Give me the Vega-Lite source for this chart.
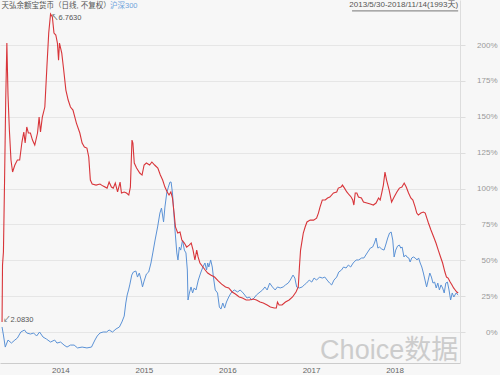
{
"$schema":"https://vega.github.io/schema/vega-lite/v6.json",
"width":460,"height":363,
"autosize":"none",
"padding":{"left":0,"top":0,"right":40,"bottom":12},
"background":"#f7f7f7",
"config":{"view":{"stroke":null},"font":"Liberation Sans, Noto Sans CJK SC"},
"datasets":{
"red":[
{"date":"2013-05-30","value":7.0},{"date":"2013-06-01","value":46.7},{"date":"2013-06-05","value":55.7},{"date":"2013-06-10","value":105.9},{"date":"2013-06-15","value":161.7},{"date":"2013-06-20","value":201.4},{"date":"2013-06-25","value":165.2},{"date":"2013-07-01","value":140.8},{"date":"2013-07-08","value":119.9},{"date":"2013-07-15","value":111.5},{"date":"2013-07-25","value":116.4},{"date":"2013-08-05","value":119.9},{"date":"2013-08-15","value":119.9},{"date":"2013-08-25","value":132.4},{"date":"2013-09-02","value":139.4},{"date":"2013-09-08","value":131.7},{"date":"2013-09-15","value":142.9},{"date":"2013-09-22","value":138.7},{"date":"2013-10-01","value":138.7},{"date":"2013-10-10","value":133.8},{"date":"2013-10-20","value":130.3},{"date":"2013-11-01","value":138.7},{"date":"2013-11-08","value":149.8},{"date":"2013-11-14","value":139.4},{"date":"2013-11-22","value":149.8},{"date":"2013-12-03","value":156.8},{"date":"2013-12-12","value":184.7},{"date":"2013-12-20","value":208.4},{"date":"2013-12-28","value":221.6},{"date":"2014-01-05","value":219.5},{"date":"2014-01-12","value":208.4},{"date":"2014-01-20","value":207.0},{"date":"2014-01-27","value":201.4},{"date":"2014-02-01","value":189.5},{"date":"2014-02-05","value":201.4},{"date":"2014-02-15","value":194.4},{"date":"2014-02-22","value":184.7},{"date":"2014-03-05","value":168.6},{"date":"2014-03-15","value":161.7},{"date":"2014-03-25","value":156.8},{"date":"2014-04-05","value":154.7},{"date":"2014-04-20","value":145.6},{"date":"2014-05-05","value":138.7},{"date":"2014-05-15","value":131.7},{"date":"2014-05-25","value":128.9},{"date":"2014-06-05","value":128.2},{"date":"2014-06-13","value":122.0},{"date":"2014-06-20","value":105.9},{"date":"2014-06-28","value":103.1},{"date":"2014-07-15","value":102.4},{"date":"2014-08-01","value":103.1},{"date":"2014-08-15","value":101.7},{"date":"2014-09-01","value":100.3},{"date":"2014-09-10","value":104.5},{"date":"2014-09-20","value":101.0},{"date":"2014-09-28","value":100.3},{"date":"2014-10-07","value":103.8},{"date":"2014-10-17","value":97.6},{"date":"2014-10-28","value":104.5},{"date":"2014-11-03","value":96.9},{"date":"2014-11-15","value":97.6},{"date":"2014-11-25","value":96.9},{"date":"2014-12-05","value":95.5},{"date":"2014-12-12","value":101.0},{"date":"2014-12-16","value":119.9},{"date":"2014-12-19","value":133.8},{"date":"2014-12-23","value":131.7},{"date":"2014-12-29","value":117.8},{"date":"2015-01-08","value":114.3},{"date":"2015-01-22","value":110.8},{"date":"2015-02-01","value":109.4},{"date":"2015-02-10","value":116.4},{"date":"2015-02-20","value":117.8},{"date":"2015-03-06","value":116.4},{"date":"2015-03-16","value":118.5},{"date":"2015-03-28","value":116.4},{"date":"2015-04-11","value":114.3},{"date":"2015-04-22","value":109.4},{"date":"2015-05-02","value":105.9},{"date":"2015-05-12","value":101.0},{"date":"2015-05-22","value":97.6},{"date":"2015-05-30","value":95.5},{"date":"2015-06-07","value":97.6},{"date":"2015-06-14","value":93.4},{"date":"2015-06-21","value":82.9},{"date":"2015-06-27","value":73.2},{"date":"2015-07-07","value":69.0},{"date":"2015-07-17","value":69.7},{"date":"2015-07-25","value":64.1},{"date":"2015-08-05","value":62.0},{"date":"2015-08-15","value":59.2},{"date":"2015-08-26","value":60.6},{"date":"2015-09-04","value":62.0},{"date":"2015-09-12","value":57.1},{"date":"2015-09-20","value":50.2},{"date":"2015-09-28","value":57.1},{"date":"2015-10-04","value":52.3},{"date":"2015-10-12","value":48.1},{"date":"2015-10-25","value":45.3},{"date":"2015-11-04","value":43.2},{"date":"2015-11-15","value":41.1},{"date":"2015-11-28","value":39.7},{"date":"2015-12-15","value":38.3},{"date":"2016-01-01","value":35.5},{"date":"2016-01-15","value":33.4},{"date":"2016-02-01","value":31.4},{"date":"2016-02-15","value":30.7},{"date":"2016-03-01","value":27.9},{"date":"2016-03-15","value":26.5},{"date":"2016-04-01","value":24.4},{"date":"2016-04-15","value":23.7},{"date":"2016-05-01","value":22.3},{"date":"2016-05-15","value":22.3},{"date":"2016-06-01","value":23.0},{"date":"2016-06-15","value":22.3},{"date":"2016-07-01","value":20.9},{"date":"2016-07-15","value":20.2},{"date":"2016-08-01","value":18.8},{"date":"2016-08-15","value":17.4},{"date":"2016-09-01","value":16.7},{"date":"2016-09-10","value":16.7},{"date":"2016-09-15","value":20.9},{"date":"2016-09-22","value":18.8},{"date":"2016-10-05","value":18.8},{"date":"2016-10-20","value":20.9},{"date":"2016-11-05","value":22.3},{"date":"2016-11-20","value":24.4},{"date":"2016-12-05","value":27.9},{"date":"2016-12-15","value":31.4},{"date":"2016-12-20","value":45.3},{"date":"2016-12-25","value":57.1},{"date":"2017-01-01","value":64.1},{"date":"2017-01-06","value":69.0},{"date":"2017-01-14","value":73.2},{"date":"2017-01-22","value":76.7},{"date":"2017-02-05","value":78.0},{"date":"2017-02-20","value":78.0},{"date":"2017-03-05","value":79.4},{"date":"2017-03-13","value":82.9},{"date":"2017-03-20","value":87.1},{"date":"2017-03-30","value":92.0},{"date":"2017-04-12","value":92.0},{"date":"2017-04-22","value":93.4},{"date":"2017-05-02","value":94.1},{"date":"2017-05-18","value":96.9},{"date":"2017-06-01","value":97.6},{"date":"2017-06-08","value":100.3},{"date":"2017-06-20","value":101.0},{"date":"2017-06-26","value":102.4},{"date":"2017-07-05","value":100.3},{"date":"2017-07-15","value":97.6},{"date":"2017-07-26","value":95.5},{"date":"2017-08-03","value":94.1},{"date":"2017-08-10","value":92.0},{"date":"2017-08-15","value":88.5},{"date":"2017-08-21","value":96.9},{"date":"2017-08-28","value":96.9},{"date":"2017-09-04","value":94.1},{"date":"2017-09-17","value":93.4},{"date":"2017-09-26","value":90.6},{"date":"2017-10-11","value":89.9},{"date":"2017-10-26","value":89.2},{"date":"2017-11-08","value":88.5},{"date":"2017-11-20","value":89.9},{"date":"2017-12-01","value":93.4},{"date":"2017-12-08","value":92.0},{"date":"2017-12-15","value":96.9},{"date":"2017-12-22","value":102.4},{"date":"2017-12-29","value":111.5},{"date":"2018-01-05","value":105.9},{"date":"2018-01-16","value":99.0},{"date":"2018-01-27","value":90.6},{"date":"2018-02-07","value":94.1},{"date":"2018-02-19","value":97.6},{"date":"2018-03-02","value":100.3},{"date":"2018-03-13","value":101.0},{"date":"2018-03-23","value":103.8},{"date":"2018-04-01","value":101.0},{"date":"2018-04-11","value":96.9},{"date":"2018-04-21","value":93.4},{"date":"2018-04-30","value":92.0},{"date":"2018-05-10","value":87.1},{"date":"2018-05-17","value":82.9},{"date":"2018-05-24","value":81.5},{"date":"2018-06-04","value":82.9},{"date":"2018-06-15","value":83.6},{"date":"2018-06-23","value":82.9},{"date":"2018-06-30","value":79.4},{"date":"2018-07-07","value":76.0},{"date":"2018-07-18","value":71.1},{"date":"2018-07-30","value":66.2},{"date":"2018-08-09","value":62.0},{"date":"2018-08-19","value":57.1},{"date":"2018-08-29","value":52.3},{"date":"2018-09-07","value":48.1},{"date":"2018-09-17","value":41.8},{"date":"2018-09-24","value":38.3},{"date":"2018-10-01","value":37.6},{"date":"2018-10-10","value":34.8},{"date":"2018-10-18","value":32.8},{"date":"2018-10-25","value":30.7},{"date":"2018-11-01","value":29.3},{"date":"2018-11-08","value":27.9},{"date":"2018-11-14","value":27.2}
],
"blue":[
{"date":"2013-05-30","value":3.5},{"date":"2013-06-05","value":-2.1},{"date":"2013-06-13","value":-10.5},{"date":"2013-06-25","value":-5.6},{"date":"2013-07-10","value":-7.7},{"date":"2013-07-25","value":-5.6},{"date":"2013-08-05","value":-4.2},{"date":"2013-08-20","value":0.0},{"date":"2013-09-05","value":1.4},{"date":"2013-09-15","value":-0.7},{"date":"2013-10-01","value":-1.4},{"date":"2013-10-15","value":-0.7},{"date":"2013-10-28","value":-2.8},{"date":"2013-11-10","value":0.0},{"date":"2013-11-25","value":-3.5},{"date":"2013-12-10","value":-4.9},{"date":"2013-12-28","value":-7.0},{"date":"2014-01-15","value":-5.6},{"date":"2014-01-25","value":-7.7},{"date":"2014-02-10","value":-7.0},{"date":"2014-02-25","value":-9.1},{"date":"2014-03-10","value":-10.5},{"date":"2014-03-25","value":-9.1},{"date":"2014-04-10","value":-9.1},{"date":"2014-04-25","value":-11.1},{"date":"2014-05-15","value":-10.5},{"date":"2014-06-05","value":-11.1},{"date":"2014-06-25","value":-10.5},{"date":"2014-07-10","value":-5.6},{"date":"2014-07-20","value":-2.8},{"date":"2014-08-01","value":-0.7},{"date":"2014-08-15","value":0.0},{"date":"2014-08-30","value":0.0},{"date":"2014-09-10","value":1.4},{"date":"2014-09-25","value":0.0},{"date":"2014-10-10","value":2.1},{"date":"2014-10-25","value":3.5},{"date":"2014-11-05","value":7.0},{"date":"2014-11-15","value":11.1},{"date":"2014-11-22","value":20.2},{"date":"2014-11-28","value":25.8},{"date":"2014-12-04","value":29.3},{"date":"2014-12-10","value":33.4},{"date":"2014-12-18","value":39.7},{"date":"2014-12-25","value":41.8},{"date":"2015-01-05","value":42.5},{"date":"2015-01-12","value":38.3},{"date":"2015-01-20","value":41.1},{"date":"2015-01-28","value":36.2},{"date":"2015-02-03","value":31.4},{"date":"2015-02-10","value":35.5},{"date":"2015-02-20","value":40.4},{"date":"2015-03-02","value":41.8},{"date":"2015-03-12","value":48.1},{"date":"2015-03-20","value":55.1},{"date":"2015-03-30","value":64.1},{"date":"2015-04-10","value":73.2},{"date":"2015-04-20","value":82.9},{"date":"2015-04-27","value":86.4},{"date":"2015-05-06","value":76.7},{"date":"2015-05-12","value":87.1},{"date":"2015-05-20","value":96.9},{"date":"2015-05-27","value":101.0},{"date":"2015-06-03","value":104.5},{"date":"2015-06-08","value":104.5},{"date":"2015-06-14","value":96.9},{"date":"2015-06-20","value":82.9},{"date":"2015-06-25","value":71.1},{"date":"2015-07-03","value":55.1},{"date":"2015-07-08","value":50.2},{"date":"2015-07-14","value":59.2},{"date":"2015-07-20","value":57.1},{"date":"2015-07-28","value":64.1},{"date":"2015-08-05","value":57.1},{"date":"2015-08-12","value":55.1},{"date":"2015-08-18","value":43.2},{"date":"2015-08-21","value":22.3},{"date":"2015-08-27","value":27.2},{"date":"2015-09-03","value":31.4},{"date":"2015-09-10","value":27.2},{"date":"2015-09-17","value":30.7},{"date":"2015-09-25","value":29.3},{"date":"2015-10-05","value":36.2},{"date":"2015-10-15","value":41.1},{"date":"2015-10-25","value":45.3},{"date":"2015-11-03","value":48.1},{"date":"2015-11-10","value":43.2},{"date":"2015-11-15","value":48.1},{"date":"2015-11-20","value":45.3},{"date":"2015-11-28","value":50.2},{"date":"2015-12-05","value":45.3},{"date":"2015-12-10","value":38.3},{"date":"2015-12-18","value":29.3},{"date":"2015-12-28","value":27.2},{"date":"2016-01-05","value":17.4},{"date":"2016-01-12","value":16.0},{"date":"2016-01-20","value":20.2},{"date":"2016-01-28","value":16.7},{"date":"2016-02-05","value":20.9},{"date":"2016-02-15","value":24.4},{"date":"2016-02-25","value":27.2},{"date":"2016-03-10","value":29.3},{"date":"2016-03-25","value":27.9},{"date":"2016-04-05","value":29.3},{"date":"2016-04-18","value":27.2},{"date":"2016-05-05","value":23.7},{"date":"2016-05-15","value":24.4},{"date":"2016-05-25","value":22.3},{"date":"2016-06-05","value":23.7},{"date":"2016-06-15","value":25.8},{"date":"2016-07-01","value":27.9},{"date":"2016-07-12","value":29.3},{"date":"2016-07-22","value":31.4},{"date":"2016-08-01","value":29.3},{"date":"2016-08-12","value":34.1},{"date":"2016-08-24","value":31.4},{"date":"2016-09-05","value":29.3},{"date":"2016-09-15","value":31.4},{"date":"2016-09-27","value":30.7},{"date":"2016-10-10","value":31.4},{"date":"2016-10-20","value":32.8},{"date":"2016-11-01","value":34.1},{"date":"2016-11-10","value":36.2},{"date":"2016-11-22","value":39.7},{"date":"2016-11-30","value":37.6},{"date":"2016-12-08","value":31.4},{"date":"2016-12-20","value":30.7},{"date":"2017-01-01","value":31.4},{"date":"2017-01-10","value":32.8},{"date":"2017-01-20","value":34.1},{"date":"2017-02-01","value":36.2},{"date":"2017-02-12","value":34.8},{"date":"2017-02-22","value":37.6},{"date":"2017-03-05","value":36.2},{"date":"2017-03-18","value":38.3},{"date":"2017-03-30","value":37.6},{"date":"2017-04-10","value":38.3},{"date":"2017-04-20","value":36.2},{"date":"2017-05-01","value":34.1},{"date":"2017-05-10","value":32.8},{"date":"2017-05-20","value":36.2},{"date":"2017-06-01","value":38.3},{"date":"2017-06-10","value":41.8},{"date":"2017-06-22","value":43.2},{"date":"2017-07-01","value":45.3},{"date":"2017-07-12","value":44.6},{"date":"2017-07-22","value":46.7},{"date":"2017-08-01","value":45.3},{"date":"2017-08-12","value":48.1},{"date":"2017-08-25","value":50.2},{"date":"2017-09-05","value":50.2},{"date":"2017-09-18","value":51.6},{"date":"2017-09-28","value":51.6},{"date":"2017-10-12","value":55.1},{"date":"2017-10-26","value":58.5},{"date":"2017-11-05","value":59.2},{"date":"2017-11-13","value":62.0},{"date":"2017-11-20","value":65.5},{"date":"2017-11-28","value":58.5},{"date":"2017-12-05","value":59.2},{"date":"2017-12-15","value":57.8},{"date":"2017-12-25","value":57.1},{"date":"2018-01-01","value":60.6},{"date":"2018-01-10","value":65.5},{"date":"2018-01-18","value":69.0},{"date":"2018-01-25","value":69.7},{"date":"2018-02-01","value":64.1},{"date":"2018-02-07","value":52.3},{"date":"2018-02-14","value":57.1},{"date":"2018-02-22","value":59.9},{"date":"2018-03-02","value":60.6},{"date":"2018-03-08","value":58.5},{"date":"2018-03-14","value":59.2},{"date":"2018-03-22","value":52.3},{"date":"2018-03-29","value":53.7},{"date":"2018-04-04","value":52.3},{"date":"2018-04-12","value":51.6},{"date":"2018-04-18","value":48.8},{"date":"2018-04-25","value":51.6},{"date":"2018-05-02","value":52.3},{"date":"2018-05-10","value":51.6},{"date":"2018-05-18","value":50.2},{"date":"2018-05-25","value":51.6},{"date":"2018-06-01","value":48.1},{"date":"2018-06-08","value":45.3},{"date":"2018-06-15","value":41.1},{"date":"2018-06-22","value":36.2},{"date":"2018-06-29","value":31.4},{"date":"2018-07-06","value":36.2},{"date":"2018-07-13","value":41.1},{"date":"2018-07-20","value":38.3},{"date":"2018-07-27","value":34.1},{"date":"2018-08-03","value":34.8},{"date":"2018-08-10","value":30.7},{"date":"2018-08-17","value":34.1},{"date":"2018-08-24","value":29.3},{"date":"2018-08-31","value":32.8},{"date":"2018-09-07","value":30.7},{"date":"2018-09-14","value":27.2},{"date":"2018-09-21","value":34.1},{"date":"2018-09-28","value":34.8},{"date":"2018-10-05","value":29.3},{"date":"2018-10-12","value":22.3},{"date":"2018-10-19","value":27.2},{"date":"2018-10-26","value":24.4},{"date":"2018-11-05","value":27.2},{"date":"2018-11-14","value":25.8}
],
"one":[{}]
},
"encoding":{
"x":{"type":"temporal","scale":{"domain":[{"year":2013,"month":5,"date":21,"utc":true},{"year":2018,"month":11,"date":22,"utc":true}]},
"axis":{"title":null,"format":"%Y","tickCount":{"interval":"year","step":1},"labelAlign":"left","ticks":false,"grid":false,"domainColor":"#cccccc","labelColor":"#666666","labelFontSize":8,"labelPadding":3,"labelFlush":false,"labelOverlap":false}},
"y":{"type":"quantitative","scale":{"domain":[-21.6,231.4],"nice":false,"zero":false},
"axis":{"title":null,"orient":"right","values":[0,25,50,75,100,125,150,175,200],"labelExpr":"datum.value + '%'","grid":true,"gridColor":"#e6e6e6","domainColor":"#dddddd","tickColor":"#dddddd","tickSize":5,"labelColor":"#999999","labelFontSize":8,"labelAlign":"right","labelPadding":32}}
},
"layer":[
{"data":{"name":"blue"},"mark":{"type":"line","color":"#5b92d6","strokeWidth":1},"encoding":{"x":{"field":"date","type":"temporal"},"y":{"field":"value","type":"quantitative"}}},
{"data":{"name":"red"},"mark":{"type":"line","color":"#d8353a","strokeWidth":1.1},"encoding":{"x":{"field":"date","type":"temporal"},"y":{"field":"value","type":"quantitative"}}},
{"data":{"name":"one"},"mark":{"type":"text","text":"Choice数据","align":"right","baseline":"alphabetic","fontSize":27,"color":"#cccccc"},"encoding":{"x":{"datum":{"year":2018,"month":11,"date":14,"utc":true},"type":"temporal"},"y":{"datum":-18.8,"type":"quantitative"}}},
{"data":{"name":"one"},"mark":{"type":"text","text":"天弘余额宝货币（日线, 不复权）","align":"left","baseline":"middle","fontSize":7.5,"color":"#555555"},"encoding":{"x":{"datum":{"year":2013,"month":5,"date":28,"utc":true},"type":"temporal"},"y":{"datum":227.5,"type":"quantitative"}}},
{"data":{"name":"one"},"mark":{"type":"text","text":"沪深300","align":"left","baseline":"middle","fontSize":7.5,"color":"#6fa3dc"},"encoding":{"x":{"datum":{"year":2014,"month":9,"date":14,"utc":true},"type":"temporal"},"y":{"datum":227.5,"type":"quantitative"}}},
{"data":{"name":"one"},"mark":{"type":"text","text":"2013/5/30-2018/11/14(1993天)","align":"right","baseline":"middle","fontSize":8,"color":"#555555"},"encoding":{"x":{"datum":{"year":2018,"month":11,"date":14,"utc":true},"type":"temporal"},"y":{"datum":228,"type":"quantitative"}}},
{"data":{"name":"one"},"mark":{"type":"rule","color":"#555555","strokeWidth":0.8},"encoding":{"x":{"datum":{"year":2017,"month":8,"date":7,"utc":true},"type":"temporal"},"x2":{"datum":{"year":2018,"month":11,"date":14,"utc":true}},"y":{"datum":223.8,"type":"quantitative"}}},
{"data":{"name":"one"},"mark":{"type":"text","text":"↖6.7630","align":"left","baseline":"middle","fontSize":7.5,"color":"#555555"},"encoding":{"x":{"datum":{"year":2013,"month":12,"date":30,"utc":true},"type":"temporal"},"y":{"datum":218.8,"type":"quantitative"}}},
{"data":{"name":"one"},"mark":{"type":"text","text":"↙2.0830","align":"left","baseline":"middle","fontSize":7.5,"color":"#555555"},"encoding":{"x":{"datum":{"year":2013,"month":6,"date":3,"utc":true},"type":"temporal"},"y":{"datum":8.4,"type":"quantitative"}}}
]
}
